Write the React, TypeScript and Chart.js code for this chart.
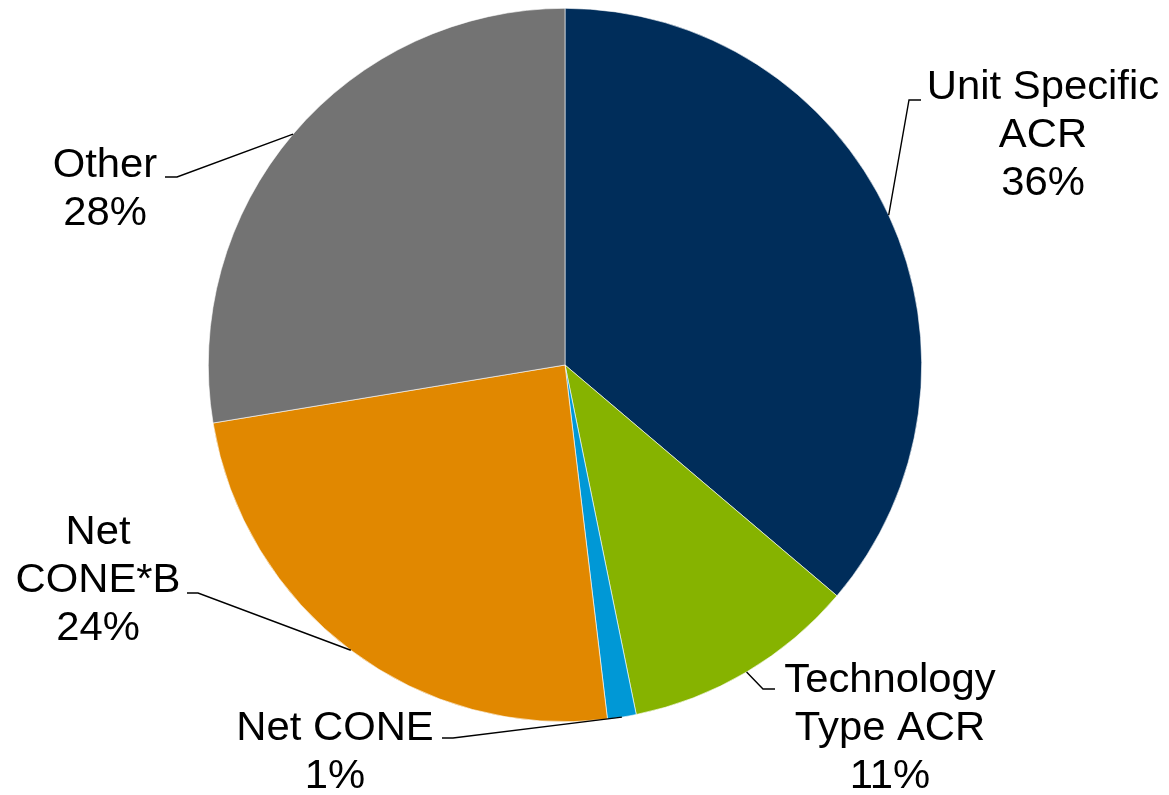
import React, { useEffect, useRef } from "react";
import { Chart, registerables } from "chart.js";

Chart.register(...registerables);

const categories = ["Unit Specific ACR", "Technology Type ACR", "Net CONE", "Net CONE*B", "Other"];
const shares = [36.2, 10.6, 1.3, 24.3, 27.6];
const colors = ["#002D5A", "#86B300", "#0098D6", "#E18800", "#737373"];
const labelLines = [
  ["Unit Specific", "ACR"],
  ["Technology", "Type ACR"],
  ["Net CONE"],
  ["Net", "CONE*B"],
  ["Other"],
];

// label placement (layout only): text centre x, first baseline, elbow, line end
const labelLayout = [
  { cx: 1043, by: 99, ex: 909, ey: 100, tx: 921, ty: 100 },
  { cx: 890, by: 692, ex: 763, ey: 689, tx: 775, ty: 689 },
  { cx: 335, by: 740, ex: 453, ey: 738, tx: 442, ty: 738 },
  { cx: 98, by: 544, ex: 198, ey: 593, tx: 187, ty: 593 },
  { cx: 105, by: 177, ex: 177, ey: 177, tx: 165, ty: 177 },
];

const FONT = "40px 'Liberation Sans', Arial, sans-serif";
const LINE_H = 48;
const X_STRETCH = 1.045;

const leaderPlugin = {
  id: "leaderLabels",
  afterDatasetsDraw(chart: any) {
    const ctx = chart.ctx;
    const meta = chart.getDatasetMeta(0);
    const data = chart.data.datasets[0].data as number[];
    ctx.save();
    meta.data.forEach((arc: any, i: number) => {
      const p = arc.getProps(["x", "y", "startAngle", "endAngle", "outerRadius"], true);
      const mid = (p.startAngle + p.endAngle) / 2;
      const sx = p.x + Math.cos(mid) * p.outerRadius;
      const sy = p.y + Math.sin(mid) * p.outerRadius;
      const L = labelLayout[i];
      ctx.strokeStyle = "#000";
      ctx.lineWidth = 1.4;
      ctx.beginPath();
      ctx.moveTo(sx, sy);
      ctx.lineTo(L.ex, L.ey);
      ctx.lineTo(L.tx, L.ty);
      ctx.stroke();
      const lines = [...labelLines[i], Math.round(data[i]) + "%"];
      ctx.save();
      ctx.translate(L.cx, 0);
      ctx.scale(X_STRETCH, 1);
      ctx.fillStyle = "#000";
      ctx.font = FONT;
      ctx.textAlign = "center";
      ctx.textBaseline = "alphabetic";
      lines.forEach((t, k) => ctx.fillText(t, 0, L.by + k * LINE_H));
      ctx.restore();
    });
    ctx.restore();
  },
};

export default function App() {
  const ref = useRef<HTMLCanvasElement>(null);
  useEffect(() => {
    if (!ref.current) return;
    const chart = new Chart(ref.current, {
      type: "pie",
      data: {
        labels: categories,
        datasets: [
          {
            data: shares,
            backgroundColor: colors,
            borderColor: "#ffffff",
            borderWidth: 0.6,
          },
        ],
      },
      options: {
        responsive: false,
        animation: false,
        layout: { padding: { top: 8, bottom: 73, left: 208, right: 247 } },
        plugins: { legend: { display: false }, tooltip: { enabled: false } },
      },
      plugins: [leaderPlugin],
    });
    return () => chart.destroy();
  }, []);
  return (
    <div style={{ position: "fixed", left: 0, top: 0, width: 1169, height: 795, background: "#fff" }}>
      <canvas ref={ref} width={1169} height={795} style={{ display: "block" }} />
    </div>
  );
}
